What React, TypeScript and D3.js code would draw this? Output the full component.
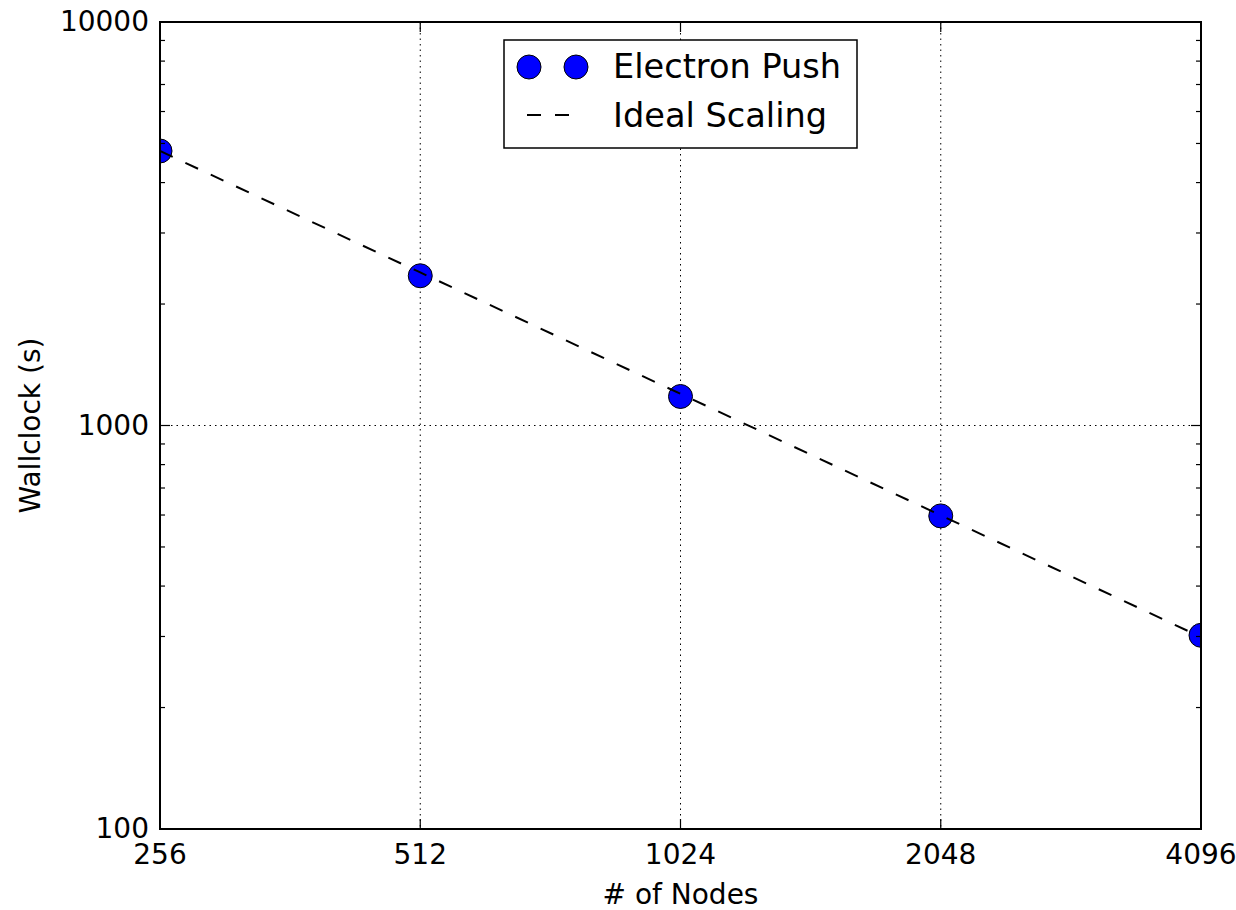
import React from "react";
import * as d3 from "d3";

// values
const nodes = [256, 512, 1024, 2048, 4096];
const wallclock = [4790, 2350, 1180, 597, 302];
const idealScaling = [4790, 2395, 1198, 599, 299];
const yMajorTicks = [100, 1000, 10000];

const WIDTH = 1236;
const HEIGHT = 910;
const MARGIN = { top: 22, right: 35, bottom: 81, left: 160 };
const FONT = "DejaVu Sans, sans-serif";

export default function App() {
  const innerW = WIDTH - MARGIN.left - MARGIN.right;
  const innerH = HEIGHT - MARGIN.top - MARGIN.bottom;

  const x = d3.scaleLog().base(2).domain([256, 4096]).range([0, innerW]);
  const y = d3.scaleLog().domain([100, 10000]).range([innerH, 0]);

  const minorTicks = y.ticks().filter((v) => !yMajorTicks.includes(v));

  const line = d3
    .line<number>()
    .x((_, i) => x(nodes[i]))
    .y((d) => y(d));

  return (
    <svg
      width={WIDTH}
      height={HEIGHT}
      style={{ position: "absolute", left: 0, top: 0, background: "#fff" }}
      fontFamily={FONT}
    >
      <defs>
        <clipPath id="plot">
          <rect x={0} y={0} width={innerW} height={innerH} />
        </clipPath>
      </defs>
      <g transform={`translate(${MARGIN.left},${MARGIN.top})`}>
        {/* grid */}
        {nodes.map((n) => (
          <line
            key={"gx" + n}
            x1={x(n)}
            x2={x(n)}
            y1={0}
            y2={innerH}
            stroke="#000"
            strokeWidth={1}
            strokeDasharray="1.5,4"
          />
        ))}
        {yMajorTicks.map((v) => (
          <line
            key={"gy" + v}
            x1={0}
            x2={innerW}
            y1={y(v)}
            y2={y(v)}
            stroke="#000"
            strokeWidth={1}
            strokeDasharray="1.5,4"
          />
        ))}

        {/* data */}
        <g clipPath="url(#plot)">
          {wallclock.map((v, i) => (
            <circle
              key={"p" + i}
              cx={x(nodes[i])}
              cy={y(v)}
              r={12}
              fill="#0000ff"
              stroke="#000"
              strokeWidth={1}
            />
          ))}
          <path
            d={line(idealScaling)!}
            fill="none"
            stroke="#000"
            strokeWidth={2}
            strokeDasharray="14,14"
          />
        </g>

        {/* ticks, inward on all four sides */}
        {nodes.map((n) => (
          <g key={"tx" + n}>
            <line x1={x(n)} x2={x(n)} y1={innerH} y2={innerH - 10} stroke="#000" strokeWidth={1.2} />
            <line x1={x(n)} x2={x(n)} y1={0} y2={10} stroke="#000" strokeWidth={1.2} />
            <text x={x(n)} y={innerH + 35} textAnchor="middle" fontSize={28} fill="#000">
              {n}
            </text>
          </g>
        ))}
        {yMajorTicks.map((v) => (
          <g key={"ty" + v}>
            <line x1={0} x2={10} y1={y(v)} y2={y(v)} stroke="#000" strokeWidth={1.2} />
            <line x1={innerW} x2={innerW - 10} y1={y(v)} y2={y(v)} stroke="#000" strokeWidth={1.2} />
            <text x={-11} y={y(v) + 9} textAnchor="end" fontSize={28} fill="#000">
              {v}
            </text>
          </g>
        ))}
        {minorTicks.map((v) => (
          <g key={"my" + v}>
            <line x1={0} x2={5} y1={y(v)} y2={y(v)} stroke="#000" strokeWidth={1.2} />
            <line x1={innerW} x2={innerW - 5} y1={y(v)} y2={y(v)} stroke="#000" strokeWidth={1.2} />
          </g>
        ))}

        {/* frame */}
        <rect x={0} y={0} width={innerW} height={innerH} fill="none" stroke="#000" strokeWidth={2} />

        {/* axis labels */}
        <text x={innerW / 2} y={innerH + 75} textAnchor="middle" fontSize={28} fill="#000">
          # of Nodes
        </text>
        <text
          transform={`translate(${-120},${innerH / 2}) rotate(-90)`}
          textAnchor="middle"
          fontSize={28}
          fill="#000"
        >
          Wallclock (s)
        </text>

        {/* legend */}
        <g transform={`translate(${504 - MARGIN.left},${40 - MARGIN.top})`}>
          <rect x={0} y={0} width={353} height={108} fill="#fff" stroke="#000" strokeWidth={1.5} />
          <circle cx={25} cy={27} r={12} fill="#0000ff" stroke="#000" strokeWidth={1} />
          <circle cx={72} cy={27} r={12} fill="#0000ff" stroke="#000" strokeWidth={1} />
          <text x={109} y={38} fontSize={33.6} fill="#000">
            Electron Push
          </text>
          <line x1={23} x2={71} y1={75} y2={75} stroke="#000" strokeWidth={2} strokeDasharray="14,14" />
          <text x={109} y={87} fontSize={33.6} fill="#000">
            Ideal Scaling
          </text>
        </g>
      </g>
    </svg>
  );
}
